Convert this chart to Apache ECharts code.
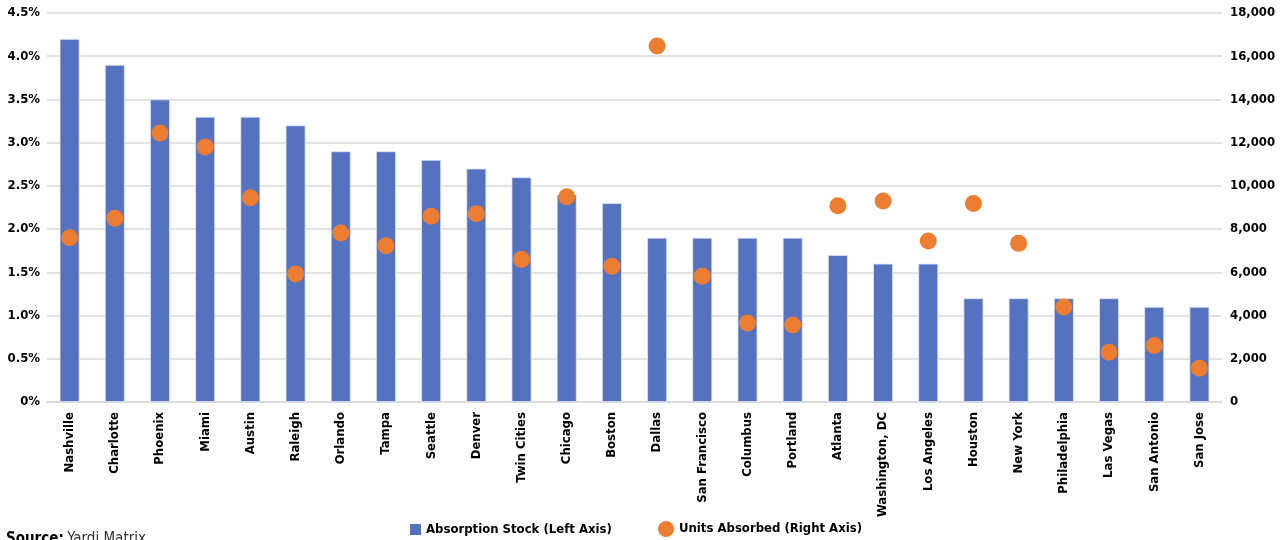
<!DOCTYPE html>
<html><head><meta charset="utf-8">
<script src="https://cdn.jsdelivr.net/npm/echarts@6/dist/echarts.min.js"></script>
<style>html,body{margin:0;padding:0;background:#fff}#c{width:1286px;height:540px}</style>
</head><body><div id="c"></div>
<script>
const cities = ["Nashville","Charlotte","Phoenix","Miami","Austin","Raleigh","Orlando","Tampa","Seattle","Denver","Twin Cities","Chicago","Boston","Dallas","San Francisco","Columbus","Portland","Atlanta","Washington, DC","Los Angeles","Houston","New York","Philadelphia","Las Vegas","San Antonio","San Jose"];
const absorptionStock = [4.2,3.9,3.5,3.3,3.3,3.2,2.9,2.9,2.8,2.7,2.6,2.4,2.3,1.9,1.9,1.9,1.9,1.7,1.6,1.6,1.2,1.2,1.2,1.2,1.1,1.1];
const unitsAbsorbed = [7600,8500,12450,11800,9450,5920,7820,7230,8600,8710,6600,9500,6280,16470,5820,3660,3560,9080,9300,7450,9190,7340,4400,2300,2610,1560];
const leftTicks = {min:0,max:4.5,interval:0.5};
const rightTicks = {min:0,max:18000,interval:2000};

const FONT = '"DejaVu Sans Condensed","Liberation Sans Narrow","Noto Sans",sans-serif';
const lbl = {fontFamily:FONT,fontWeight:'bold',fontSize:13,color:'#000'};
const chart = echarts.init(document.getElementById('c'));
chart.setOption({
  animation:false,
  textStyle:{fontFamily:FONT},
  grid:{left:47,right:64,top:13,bottom:138},
  legend:[
    {left:405, top:518, itemWidth:11, itemHeight:11, itemGap:6,
     textStyle:lbl, data:[{name:'Absorption Stock (Left Axis)',icon:'rect',itemStyle:{borderWidth:0}}]},
    {left:653, top:516, itemWidth:16, itemHeight:16, itemGap:6,
     textStyle:lbl, data:[{name:'Units Absorbed (Right Axis)',icon:'circle'}]}
  ],
  graphic:[{type:'text',left:6,top:532,style:{rich:{b:{fontWeight:'bold',fontSize:15,fontFamily:FONT,fill:'#000'},n:{fontSize:15,fontFamily:FONT,fill:'#333'}},text:'{b|Source:} {n|Yardi Matrix}'}}],
  xAxis:{type:'category',data:cities,
    axisLine:{show:true,lineStyle:{color:'#d9d9d9',width:1.5}},axisTick:{show:false},
    axisLabel:Object.assign({interval:0,rotate:90,margin:10},lbl)},
  yAxis:[
    {type:'value',min:leftTicks.min,max:leftTicks.max,interval:leftTicks.interval,
     axisLabel:Object.assign({formatter:v=>v===0?'0%':v.toFixed(1)+'%',margin:7},lbl),
     splitLine:{lineStyle:{color:'#d9d9d9',width:1.5}},axisLine:{show:false},axisTick:{show:false}},
    {type:'value',min:rightTicks.min,max:rightTicks.max,interval:rightTicks.interval,position:'right',
     axisLabel:Object.assign({formatter:v=>v.toLocaleString('en-US'),margin:8},lbl),
     splitLine:{show:false},axisLine:{show:false},axisTick:{show:false}}
  ],
  series:[
    {name:'Absorption Stock (Left Axis)',type:'bar',yAxisIndex:0,data:absorptionStock,barWidth:'44%',
     itemStyle:{color:'#5572C0',borderColor:'#dfe6f5',borderWidth:0.8}},
    {name:'Units Absorbed (Right Axis)',type:'scatter',yAxisIndex:1,data:unitsAbsorbed,symbolSize:17,
     itemStyle:{color:'#ED7D31',opacity:1}}
  ]
});
</script></body></html>
